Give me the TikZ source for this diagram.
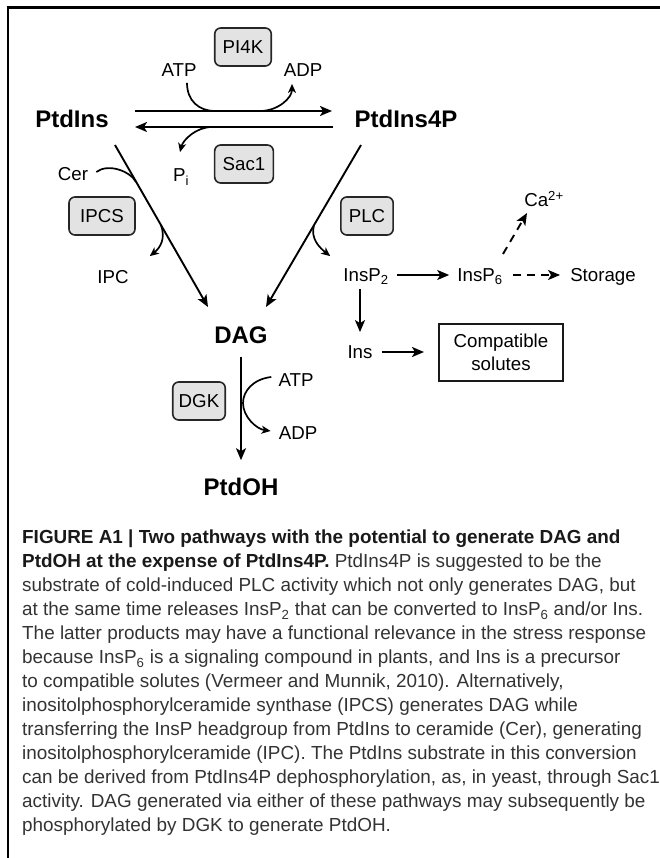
\documentclass[tikz,border=0pt]{standalone}
\usepackage{fontspec}
\setmainfont{Liberation Sans}
\usetikzlibrary{arrows.meta,calc,positioning}

\tikzset{
  enz/.style={draw=black!85, line width=1.6pt, fill=black!11, rounded corners=6pt,
    minimum height=38pt, inner xsep=8pt, font=\fontsize{18.7}{22}\selectfont},
  lbl/.style={font=\fontsize{18.7}{22}\selectfont, text height=13.4pt, text depth=0pt, inner sep=3pt},
  met/.style={font=\fontsize{24}{28}\selectfont\bfseries, text height=17.2pt, text depth=0pt, inner sep=3pt},
  rxn/.style={line width=1.9pt, -{Stealth[length=12pt,width=10pt,inset=3pt]}},
  cofac/.style={line width=1.7pt, -{Stealth[length=9pt,width=8pt,inset=2.5pt]}},
  fate/.style={rxn, dash pattern=on 8pt off 6pt},
}

\begin{document}
\begin{tikzpicture}[x=1pt,y=-1pt]
\useasboundingbox (0,0) rectangle (660,858);
% frame
\draw[line width=3pt] (6.5,8) -- (660,8);
\draw[line width=2pt] (8,6.5) -- (8,858);

% enzymes
\node[enz] (pik) at (243,47) {PI4K};
\node[enz] (sac) at (244,164) {Sac1};
\node[enz, minimum width=66pt] (ipcs) at (102,216) {IPCS};
\node[enz] (plc) at (367,216) {PLC};
\node[enz, inner xsep=6pt] (dgk) at (199,401) {DGK};

% lipids
\node[met] (ptdins) at (72,119) {PtdIns};
\node[met] (ptdinsp) at (406,119) {PtdIns4P};
\node[met] (dag) at (241,335) {DAG};
\node[met] (ptdoh) at (241,487) {PtdOH};

% small molecules
\node[lbl] (atpa) at (179,70) {ATP};
\node[lbl] (adpa) at (303,70) {ADP};
\node[lbl] (pi) at (181,175) {P\textsubscript{i}};
\node[lbl] (cer) at (73,174) {Cer};
\node[lbl] (ipc) at (113,277) {IPC};
\node[lbl] (insp2) at (366,275) {InsP\textsubscript{2}};
\node[lbl] (insp6) at (480,275) {InsP\textsubscript{6}};
\node[lbl] (storage) at (603,275) {Storage};
\node[lbl] (ca) at (544,200) {Ca\textsuperscript{2+}};
\node[lbl] (ins) at (360,352) {Ins};
\node[draw=black!90, line width=2pt, minimum width=124pt, minimum height=57pt,
  align=center, font=\fontsize{18.7}{23}\selectfont] (solutes) at (501,352) {Compatible\\solutes};
\node[lbl] (atpb) at (296,380) {ATP};
\node[lbl] (adpb) at (298,433) {ADP};

% where side reactions meet the main arrows
\coordinate (fwin) at (215,111);
\coordinate (fwout) at (260,111);
\coordinate (bwout) at (212,127);
\coordinate (cerin) at (136,182);
\coordinate (ipcout) at (161,225);
\coordinate (plcout) at (314,225);
\coordinate (dgkin) at (243,403);

% PtdIns <-> PtdIns4P
\draw[rxn] ($(ptdins)+(63,-8)$) -- ($(ptdinsp)+(-74,-8)$);
\draw[rxn] ($(ptdinsp)+(-73,8)$) -- ($(ptdins)+(63,8)$);
\draw[line width=1.7pt] ($(atpa.south)+(8,3)$) .. controls +(0,18) and +(-16,0) .. (fwin);
\draw[cofac] (fwout) .. controls +(18,0) and +(0,14) .. ($(adpa.south)+(-11,4)$);
\draw[cofac] (bwout) .. controls +(-16,0) and +(3,-12) .. ($(pi.north)+(-1,-13)$);

% to DAG
\draw[rxn] ($(ptdins)+(43,26)$) -- ($(dag)+(-33,-28)$);
\draw[rxn] ($(ptdinsp)+(-45,26)$) -- ($(dag)+(25,-28)$);
\draw[line width=1.7pt] ($(cer.east)+(5,-2)$) .. controls +(12,-9) and +(-6,-11) .. (cerin);
\draw[cofac] (ipcout) .. controls +(5,14) and +(10,-8) .. ($(ipc.north east)+(18,-11)$);
\draw[cofac] (plcout) .. controls +(-4,14) and +(-10,-8) .. ($(insp2.north west)+(-10,-9)$);

% inositol phosphates
\draw[rxn, shorten <=5pt, shorten >=5pt] (insp2) -- (insp6);
\draw[fate, shorten <=7pt, shorten >=7pt] (insp6) -- (storage);
\draw[fate] ($(insp6)+(23,-21)$) -- ($(ca)+(-17,13)$);
\draw[rxn, shorten <=4pt, shorten >=10pt] (ins.north |- insp2.south) -- (ins.north);
\draw[rxn, shorten <=6pt, shorten >=14pt] (ins.east) -- (ins.east -| solutes.west);

% DAG -> PtdOH
\draw[rxn, shorten <=10pt, shorten >=15pt] (dag) -- (ptdoh);
\draw[cofac] ($(atpb.west)+(-4,-3)$) .. controls +(-18,2) and +(0,-12) .. (dgkin)
  .. controls +(0,14) and +(-14,-2) .. ($(adpb.west)+(-5,-2)$);

% caption
\node[anchor=north west, align=left, inner sep=0pt, text=black!80,
  font=\fontsize{18.9}{24}\selectfont] (caption) at (22,530) {%
{\bfseries\color{black!90}FIGURE A1 | Two pathways with the potential to generate DAG and}\\
{\bfseries\color{black!90}PtdOH at the expense of PtdIns4P.} PtdIns4P is suggested to be the\\
substrate of cold-induced PLC activity which not only generates DAG, but\\
at the same time releases InsP\textsubscript{2} that can be converted to InsP\textsubscript{6} and/or Ins.\\
The latter products may have a functional relevance in the stress response\\
because InsP\textsubscript{6} is a signaling compound in plants, and Ins is a precursor\\
to compatible solutes (Vermeer and Munnik, 2010). Alternatively,\\
inositolphosphorylceramide synthase (IPCS) generates DAG while\\
transferring the InsP headgroup from PtdIns to ceramide (Cer), generating\\
inositolphosphorylceramide (IPC). The PtdIns substrate in this conversion\\
can be derived from PtdIns4P dephosphorylation, as, in yeast, through Sac1\\
activity. DAG generated via either of these pathways may subsequently be\\
phosphorylated by DGK to generate PtdOH.};
\end{tikzpicture}
\end{document}
